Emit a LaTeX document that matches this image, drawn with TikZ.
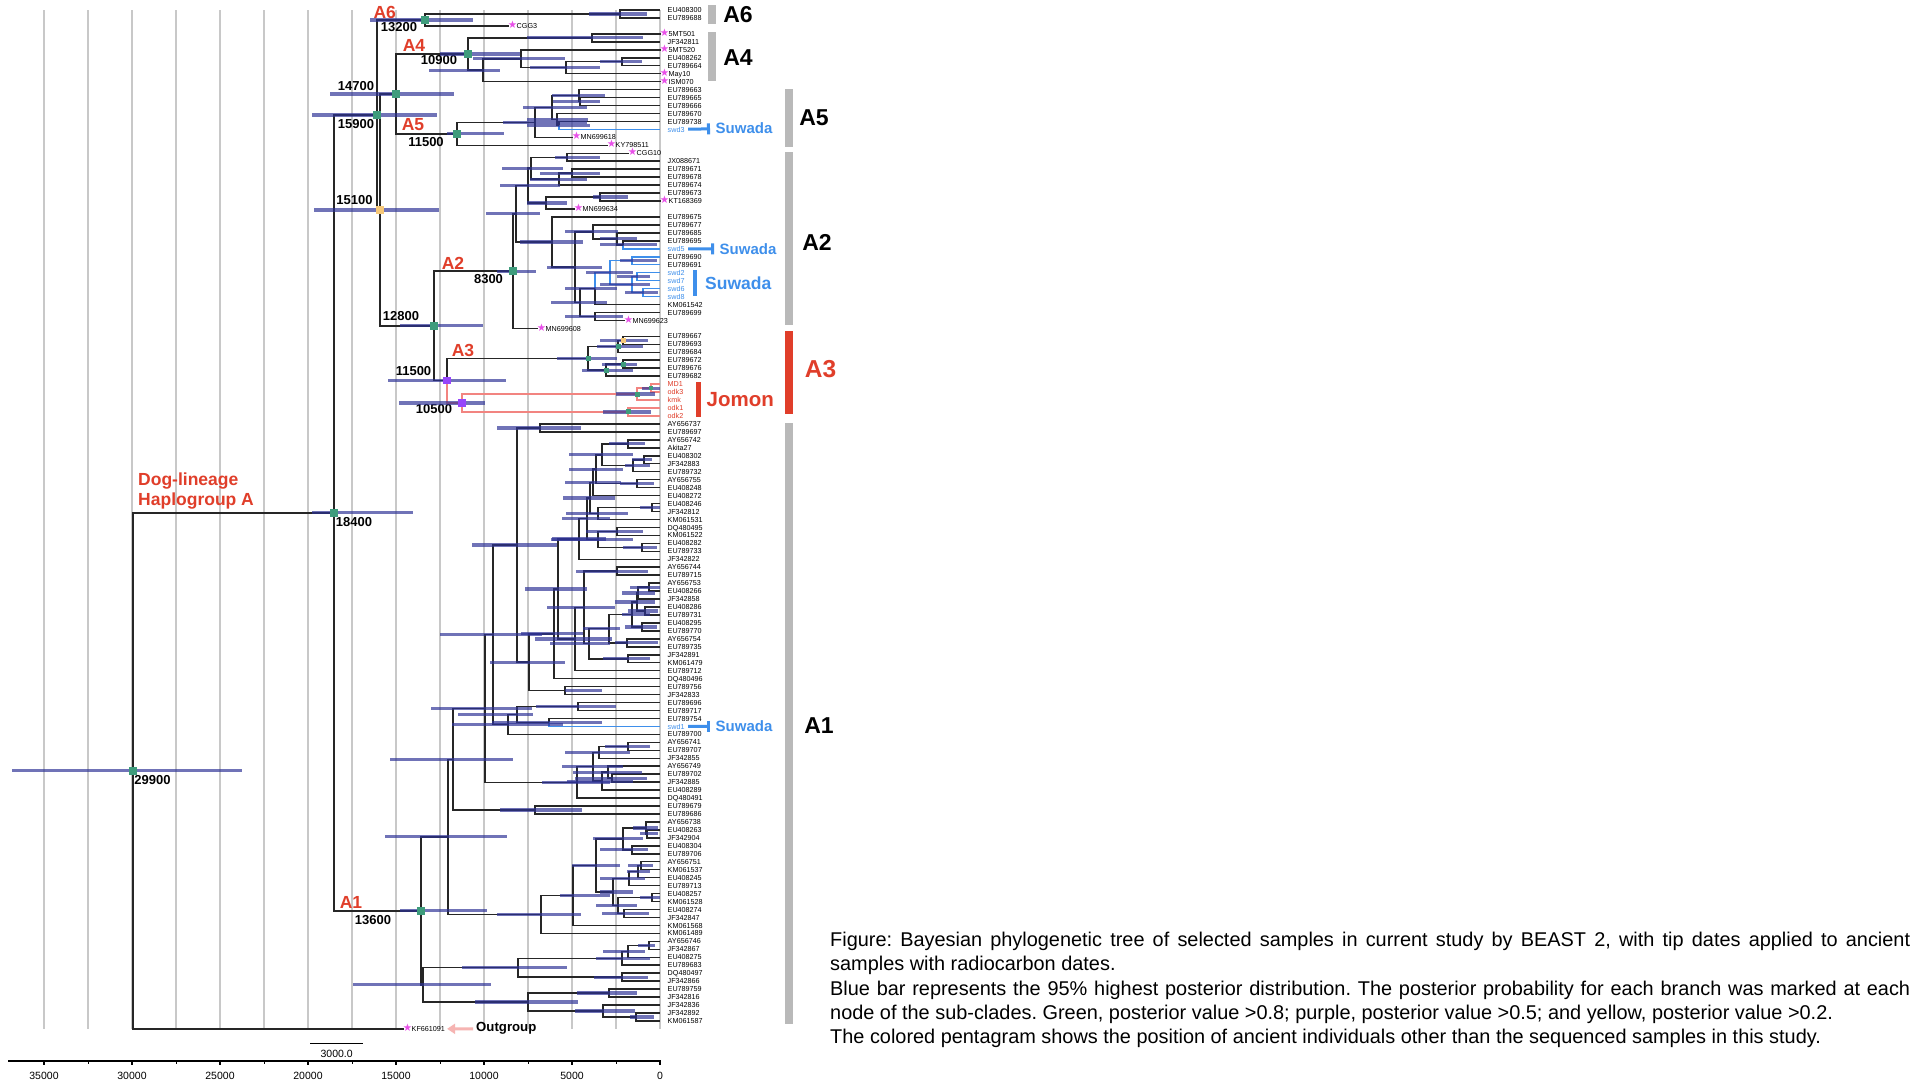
\documentclass[tikz,border=0pt]{standalone}
\usepackage{fontspec}
\setmainfont{Liberation Sans}
\newfontfamily\starfnt{DejaVu Sans}
\usepackage{xcolor}
\usetikzlibrary{arrows.meta,positioning,calc}
\frenchspacing

\definecolor{branchc}{RGB}{38,38,38}
\definecolor{gridc}{RGB}{200,200,200}
\definecolor{hpdc}{RGB}{45,50,150}
\definecolor{swdc}{RGB}{62,143,235}
\definecolor{jomc}{RGB}{242,132,128}
\definecolor{redc}{RGB}{224,62,42}
\definecolor{starc}{RGB}{232,80,232}
\definecolor{greenc}{RGB}{62,156,124}
\definecolor{purpc}{RGB}{150,70,250}
\definecolor{yelc}{RGB}{246,200,120}
\definecolor{barc}{RGB}{185,185,185}
\definecolor{ogc}{RGB}{246,180,178}

\pgfdeclarelayer{bars}
\pgfdeclarelayer{marks}
\pgfsetlayers{main,bars,marks}

% internal node: [style] name, x, child, child, 95% bar from, to
\newcommand{\clade}[7][branch]{%
  \path let \p1=(#4), \p2=(#5) in (#3pt,{(\y1+\y2)/2}) coordinate (#2);
  \draw[#1] (#2) |- (#4);
  \draw[#1] (#2) |- (#5);
  \begin{pgfonlayer}{bars}
    \draw[hpd] let \p1=(#2) in (#6pt,\y1) -- (#7pt,\y1);
  \end{pgfonlayer}}
% same, one style per child
\newcommand{\cladex}[8]{%
  \path let \p1=(#3), \p2=(#5) in (#2pt,{(\y1+\y2)/2}) coordinate (#1);
  \draw[#4] (#1) |- (#3);
  \draw[#6] (#1) |- (#5);
  \begin{pgfonlayer}{bars}
    \draw[hpd] let \p1=(#1) in (#7pt,\y1) -- (#8pt,\y1);
  \end{pgfonlayer}}

\begin{document}
\begin{tikzpicture}[
    x=1pt, y=-1pt,
    branch/.style={draw=branchc, line width=1.5pt},
    bbranch/.style={draw=swdc, line width=1.5pt},
    rbranch/.style={draw=jomc, line width=1.5pt},
    hpd/.style={draw=hpdc, line width=3.2pt, draw opacity=0.68},
    gridline/.style={draw=gridc, line width=1.2pt},
    axisline/.style={draw=black, line width=2pt},
    leaf/.style={anchor=west, inner xsep=7.5pt, inner ysep=0.5pt, text height=5.2pt, text depth=0pt, font=\fontsize{7.2}{8}\selectfont},
    bleaf/.style={leaf, text=swdc},
    rleaf/.style={leaf, text=redc},
    sleaf/.style={leaf, inner xsep=0pt, execute at begin node={\kern-0.8pt\textcolor{starc}{\starfnt\fontsize{10.5}{10.5}\selectfont ★}\kern-0.6pt}},
    age/.style={font=\bfseries\fontsize{13}{14}\selectfont, inner sep=0pt},
    clab/.style={font=\bfseries\fontsize{17.5}{19}\selectfont, text=redc, inner sep=0pt},
    side/.style={font=\bfseries\fontsize{23}{24}\selectfont, inner sep=0pt},
    sidebar/.style={fill=barc, draw=none},
    suw/.style={font=\bfseries\fontsize{15}{16}\selectfont, text=swdc, anchor=west, inner xsep=5.5pt, inner ysep=0pt},
    sconn/.style={draw=swdc, line width=3pt, shorten <=-4pt, -{Bar[width=11pt, line width=3pt]}},
    gsq/.style={fill=greenc, minimum size=7.5pt, inner sep=0pt},
    ysq/.style={fill=yelc, minimum size=7.5pt, inner sep=0pt},
    psq/.style={fill=purpc, minimum size=7.5pt, inner sep=0pt},
    axlab/.style={font=\fontsize{10.5}{11}\selectfont, inner sep=0pt}
]

\fill[white] (0,0) rectangle (1920,1080);
\useasboundingbox (0,0) rectangle (1920,1080);

% time grid
\foreach \k in {0,...,14}
  \draw[gridline] ({660-44*\k},10) -- ({660-44*\k},1029);

% tips
\foreach \lab/\tx/\st [count=\i] in {EU408300/660/leaf, EU789688/660/leaf, CGG3/508.5/sleaf, 5MT501/660.5/sleaf, JF342811/660/leaf, 5MT520/660.5/sleaf, EU408262/660/leaf, EU789664/660/leaf, May10/660.5/sleaf, ISM070/660.5/sleaf,
  EU789663/660/leaf, EU789665/660/leaf, EU789666/660/leaf, EU789670/660/leaf, EU789738/660/leaf, swd3/660/bleaf, MN699618/572.5/sleaf, KY798511/607.5/sleaf, CGG10/628.5/sleaf, JX088671/660/leaf,
  EU789671/660/leaf, EU789678/660/leaf, EU789674/660/leaf, EU789673/660/leaf, KT168369/660.5/sleaf, MN699634/574.5/sleaf, EU789675/660/leaf, EU789677/660/leaf, EU789685/660/leaf, EU789695/660/leaf,
  swd5/660/bleaf, EU789690/660/leaf, EU789691/660/leaf, swd2/660/bleaf, swd7/660/bleaf, swd6/660/bleaf, swd8/660/bleaf, KM061542/660/leaf, EU789699/660/leaf, MN699623/624.5/sleaf,
  MN699608/537.5/sleaf, EU789667/660/leaf, EU789693/660/leaf, EU789684/660/leaf, EU789672/660/leaf, EU789676/660/leaf, EU789682/660/leaf, MD1/660/rleaf, odk3/660/rleaf, kmk/660/rleaf,
  odk1/660/rleaf, odk2/660/rleaf, AY656737/660/leaf, EU789697/660/leaf, AY656742/660/leaf, Akita27/660/leaf, EU408302/660/leaf, JF342883/660/leaf, EU789732/660/leaf, AY656755/660/leaf,
  EU408248/660/leaf, EU408272/660/leaf, EU408246/660/leaf, JF342812/660/leaf, KM061531/660/leaf, DQ480495/660/leaf, KM061522/660/leaf, EU408282/660/leaf, EU789733/660/leaf, JF342822/660/leaf,
  AY656744/660/leaf, EU789715/660/leaf, AY656753/660/leaf, EU408266/660/leaf, JF342858/660/leaf, EU408286/660/leaf, EU789731/660/leaf, EU408295/660/leaf, EU789770/660/leaf, AY656754/660/leaf,
  EU789735/660/leaf, JF342891/660/leaf, KM061479/660/leaf, EU789712/660/leaf, DQ480496/660/leaf, EU789756/660/leaf, JF342833/660/leaf, EU789696/660/leaf, EU789717/660/leaf, EU789754/660/leaf,
  swd1/660/bleaf, EU789700/660/leaf, AY656741/660/leaf, EU789707/660/leaf, JF342855/660/leaf, AY656749/660/leaf, EU789702/660/leaf, JF342885/660/leaf, EU408289/660/leaf, DQ480491/660/leaf,
  EU789679/660/leaf, EU789686/660/leaf, AY656738/660/leaf, EU408263/660/leaf, JF342904/660/leaf, EU408304/660/leaf, EU789706/660/leaf, AY656751/660/leaf, KM061537/660/leaf, EU408245/660/leaf,
  EU789713/660/leaf, EU408257/660/leaf, KM061528/660/leaf, EU408274/660/leaf, JF342847/660/leaf, KM061568/660/leaf, KM061489/660/leaf, AY656746/660/leaf, JF342867/660/leaf, EU408275/660/leaf,
  EU789683/660/leaf, DQ480497/660/leaf, JF342866/660/leaf, EU789759/660/leaf, JF342816/660/leaf, JF342836/660/leaf, JF342892/660/leaf, KM061587/660/leaf, KF661091/403.5/sleaf}
  \node[\st] (t\i) at (\tx,{10+(\i-1)*7.96}) {\lab};

% A6
\clade{a6a}{620}{t1}{t2}{589}{647}
\clade{a6}{425}{a6a}{t3}{370}{473}
% A4
\clade{a4a}{592}{t4}{t5}{527}{643}
\clade{a4b}{622}{t7}{t8}{600}{642}
\clade{a4c}{566}{a4b}{t9}{530}{600}
\clade{a4d}{521}{t6}{a4c}{473}{565}
\clade{a4e}{483}{a4d}{t10}{429}{500}
\clade{a4}{468}{a4a}{a4e}{440}{520}
% A5
\clade{a5a}{580}{t12}{t13}{553}{600}
\clade{a5b}{579}{t11}{a5a}{552}{605}
\cladex{a5c}{559}{t15}{branch}{t16}{bbranch}{527}{590}
\clade{a5d}{557}{t14}{a5c}{527}{588}
\clade{a5e}{552}{a5b}{a5d}{523}{587}
\clade{a5f}{535}{a5e}{t17}{503}{587}
\clade{a5}{457}{a5f}{t18}{447}{504}
\clade{n14700}{396}{a4}{a5}{330}{454}
% A2
\clade{a2a}{567}{t19}{t20}{555}{600}
\clade{a2b}{572}{t21}{t22}{540}{600}
\clade{a2c}{559}{a2b}{t23}{530}{587}
\clade{a2d}{531}{a2a}{a2c}{502}{563}
\clade{a2e}{600}{t24}{t25}{593}{628}
\clade{a2f}{546}{a2e}{t26}{527}{567}
\clade{a2g}{528}{a2d}{a2f}{500}{560}
\cladex{a2h}{623}{t30}{branch}{t31}{bbranch}{600}{657}
\clade{a2i}{617}{t29}{a2h}{600}{637}
\clade{a2j}{593}{t28}{a2i}{565}{618}
\clade[bbranch]{a2k}{632}{t32}{t33}{620}{657}
\clade[bbranch]{a2l}{637}{t34}{t35}{617}{650}
\clade[bbranch]{a2m}{643}{t36}{t37}{625}{658}
\clade[bbranch]{a2n}{632}{a2l}{a2m}{600}{650}
\clade[bbranch]{a2o}{610}{a2k}{a2n}{586}{633}
\cladex{a2p}{595}{a2o}{bbranch}{t38}{branch}{565}{617}
\clade{a2q}{595}{t39}{t40}{565}{623}
\clade{a2r}{580}{a2p}{a2q}{551}{607}
\clade{a2s}{575}{a2j}{a2r}{547}{602}
\clade{a2t}{552}{t27}{a2s}{520}{583}
\clade{a2u}{516}{a2g}{a2t}{486}{540}
\clade{a2}{513}{a2u}{t41}{497}{536}
% A3 and Jomon
\clade{a3a}{623}{t42}{t43}{600}{648}
\clade{a3b}{618}{a3a}{t44}{597}{643}
\clade{a3c}{623}{t45}{t46}{602}{637}
\clade{a3d}{606}{a3c}{t47}{582}{633}
\clade{a3e}{588}{a3b}{a3d}{557}{617}
\clade[rbranch]{jm1}{651}{t48}{t49}{642}{660}
\clade[rbranch]{jm2}{637}{jm1}{t50}{616}{655}
\clade[rbranch]{jm3}{628}{t51}{t52}{603}{651}
\clade[rbranch]{jomon}{462}{jm2}{jm3}{399}{485}
\cladex{a3}{447}{a3e}{branch}{jomon}{rbranch}{388}{506}
\clade{n12800}{434}{a2}{a3}{400}{483}
\clade{n15100}{380}{n14700}{n12800}{314}{439}
\clade{n15900}{377}{a6}{n15100}{312}{437}
% A1, upper part
\clade{b01}{540}{t53}{t54}{497}{581}
\clade{b02}{628}{t55}{t56}{609}{645}
\clade{b03}{644}{t57}{t58}{632}{652}
\clade{b04}{633}{b03}{t59}{625}{650}
\clade{b05}{602}{b02}{b04}{569}{633}
\clade{b06}{637}{t60}{t61}{620}{654}
\clade{b07}{596}{b05}{b06}{569}{623}
\clade{b08}{593}{b07}{t62}{565}{621}
\clade{b09}{652}{t63}{t64}{640}{660}
\clade{b10}{598}{b09}{t65}{566}{628}
\clade{b11}{590}{b08}{b10}{563}{615}
\clade{b12}{617}{t66}{t67}{586}{643}
\clade{b13}{642}{t68}{t69}{623}{657}
\clade{b14}{598}{b12}{b13}{551}{633}
\clade{b15}{587}{b11}{b14}{562}{610}
\clade{b16}{579}{b15}{t70}{552}{606}
\clade{b17}{617}{t71}{t72}{576}{648}
\clade{b18}{649}{t73}{t74}{630}{660}
\clade{b19}{638}{b18}{t75}{622}{655}
\clade{b20}{645}{t76}{t77}{628}{658}
\clade{b21}{637}{b19}{b20}{615}{655}
\clade{b22}{642}{t78}{t79}{625}{657}
\clade{b23}{632}{b21}{b22}{622}{650}
\clade{b24}{627}{t80}{t81}{615}{658}
\clade{b25}{609}{b23}{b24}{583}{620}
\clade{b26}{628}{t82}{t83}{603}{650}
\clade{b27}{589}{b25}{b26}{550}{610}
\clade{b28}{584}{b17}{b27}{547}{615}
\clade{b29}{575}{b28}{t84}{535}{612}
\clade{b30}{558}{b16}{b29}{525}{587}
\clade{b31}{554}{b30}{t85}{521}{583}
\clade{b32}{565}{t86}{t87}{565}{602}
\clade{b33}{529}{b31}{b32}{490}{565}
\clade{b34}{517}{b01}{b33}{472}{557}
\clade{b35}{578}{t88}{t89}{536}{616}
\cladex{b36}{549}{t90}{branch}{t91}{bbranch}{492}{602}
\clade{b37}{517}{b35}{b36}{458}{533}
\clade{b38}{508}{b37}{t92}{452}{563}
\clade{b39}{493}{b34}{b38}{440}{542}
\clade{b40}{628}{t93}{t94}{605}{650}
\clade{b41}{599}{b40}{t95}{565}{630}
\clade{b42}{612}{t97}{t98}{575}{647}
\clade{b43}{608}{t96}{b42}{573}{642}
\clade{b44}{602}{b43}{t99}{567}{633}
\clade{b45}{593}{b41}{b44}{562}{623}
\clade{b46}{577}{b45}{t100}{542}{610}
\clade{b47}{485}{b39}{b46}{431}{532}
\clade{b48}{535}{t101}{t102}{500}{582}
\clade{b49}{453}{b47}{b48}{390}{513}
% A1, middle part
\clade{c01}{647}{t104}{t105}{640}{658}
\clade{c02}{646}{t103}{c01}{633}{658}
\clade{c03}{632}{t106}{t107}{600}{648}
\clade{c04}{623}{c02}{c03}{593}{643}
\clade{c05}{641}{t108}{t109}{628}{653}
\clade{c06}{638}{c05}{t110}{627}{650}
\clade{c07}{629}{c06}{t111}{600}{645}
\clade{c08}{652}{t112}{t113}{640}{660}
\clade{c09}{624}{t114}{t115}{602}{649}
\clade{c10}{618}{c08}{c09}{596}{637}
\clade{c11}{613}{c07}{c10}{600}{633}
\clade{c12}{596}{c04}{c11}{572}{620}
\clade{c13}{573}{c12}{t116}{560}{610}
\clade{c14}{541}{c13}{t117}{497}{581}
\clade{a1a}{448}{b49}{c14}{385}{507}
% A1, lower part
\clade{d01}{649}{t118}{t119}{638}{655}
\clade{d02}{628}{d01}{t120}{603}{645}
\clade{d03}{622}{d02}{t121}{596}{650}
\clade{d04}{622}{t122}{t123}{594}{648}
\clade{d05}{518}{d03}{d04}{462}{567}
\clade{d06}{609}{t124}{t125}{577}{637}
\clade{d07}{636}{t127}{t128}{630}{654}
\clade{d08}{603}{t126}{d07}{575}{635}
\clade{d09}{528}{d06}{d08}{475}{578}
\clade{a1b}{423}{d05}{d09}{353}{491}
\clade{a1}{421}{a1a}{a1b}{400}{487}
% deep nodes
\clade{n18400}{334}{n15900}{a1}{312}{413}
\clade{root}{133}{n18400}{t129}{12}{242}

% posterior marks
\begin{pgfonlayer}{marks}
\node[gsq] (q-root) at (root) {};
\node[gsq] (q-18400) at (n18400) {};
\node[gsq] (q-15900) at (n15900) {};
\node[ysq] (q-15100) at (n15100) {};
\node[gsq] (q-14700) at (n14700) {};
\node[gsq] (q-a6) at (a6) {};
\node[gsq] (q-a4) at (a4) {};
\node[gsq] (q-a5) at (a5) {};
\node[gsq] (q-12800) at (n12800) {};
\node[gsq] (q-a2) at (a2) {};
\node[psq] (q-a3) at (a3) {};
\node[psq] (q-jomon) at (jomon) {};
\node[gsq] (q-a1) at (a1) {};
\node[gsq, minimum size=5pt] (q-a3e) at (a3e) {};
\node[gsq, minimum size=5pt] (q-a3b) at (a3b) {};
\node[ysq, minimum size=5pt] (q-a3a) at (a3a) {};
\node[gsq, minimum size=5pt] (q-a3c) at (a3c) {};
\node[gsq, minimum size=5pt] (q-a3d) at (a3d) {};
\node[gsq, minimum size=4pt] (q-jm1) at (jm1) {};
\node[gsq, minimum size=5pt] (q-jm2) at (jm2) {};
\node[gsq, minimum size=5pt] (q-jm3) at (jm3) {};
\end{pgfonlayer}

% node ages
\node[age] (l29900) at (152.5,780) {29900};
\node[age] (l18400) at (354,521.6) {18400};
\node[age] (l15900) at (356,124) {15900};
\node[age] (l14700) at (356,86) {14700};
\node[age] (l15100) at (354.5,200.5) {15100};
\node[age] (l13200) at (399,26.7) {13200};
\node[age] (l10900) at (439,60.3) {10900};
\node[age] (l11500a) at (426,141.7) {11500};
\node[age] (l8300) at (488.5,278.7) {8300};
\node[age] (l12800) at (401,316.5) {12800};
\node[age] (l11500b) at (413.5,371.3) {11500};
\node[age] (l10500) at (434,409) {10500};
\node[age] (l13600) at (373,920.3) {13600};

% clade names on the tree
\node[clab] (ta6) at (384.7,12.5) {A6};
\node[clab] (ta4) at (414,45.7) {A4};
\node[clab] (ta5) at (413,125) {A5};
\node[clab] (ta2) at (453,263) {A2};
\node[clab] (ta3) at (463,350) {A3};
\node[clab] (ta1) at (351,902) {A1};
\node[clab, anchor=north west, align=left, font=\bfseries\fontsize{17.5}{20}\selectfont] (dogA) at (138,473) {Dog-lineage\\Haplogroup A};

% clade bars on the right
\fill[sidebar] (708,5) rectangle (716,23.5);
\node[side] (sa6) at (738,15) {A6};
\fill[sidebar] (708,32) rectangle (716,81);
\node[side] (sa4) at (738,58) {A4};
\fill[sidebar] (785,89) rectangle (793,147);
\node[side] (sa5) at (814,117.5) {A5};
\fill[sidebar] (785,152) rectangle (793,324.5);
\node[side] (sa2) at (817,242.5) {A2};
\fill[redc] (785,330.6) rectangle (793,414);
\node[side, text=redc, font=\bfseries\fontsize{24.5}{25}\selectfont] (sa3) at (820.5,368.6) {A3};
\fill[sidebar] (785,422.5) rectangle (793,1024);
\node[side] (sa1) at (819,726) {A1};

% Suwada and Jomon samples
\node[suw] (suw3) at (710,128.3) {Suwada};
\draw[sconn] (t16) -- (suw3);
\node[suw] (suw5) at (714,248.7) {Suwada};
\draw[sconn] (t31) -- (suw5);
\node[suw] (suw1) at (710,726.4) {Suwada};
\draw[sconn] (t91) -- (suw1);
\fill[swdc] (693,270) rectangle (697,296);
\node[suw, inner xsep=0pt, font=\bfseries\fontsize{17.5}{18}\selectfont] (suwbig) at (705,283) {Suwada};
\fill[redc] (696,381.7) rectangle (701,417.3);
\node[anchor=west, inner sep=0pt, text=redc, font=\bfseries\fontsize{20.5}{21}\selectfont] (jomonlab) at (706.5,400) {Jomon};

% outgroup
\node[anchor=west, inner xsep=3pt, font=\bfseries\fontsize{13.2}{14}\selectfont] (outg) at (473,1028.7) {Outgroup};
\draw[draw=ogc, line width=3pt, shorten >=2pt, -{Triangle[length=8pt, width=10pt]}] (outg) -- (t129);

% scale bar and time axis
\draw[line width=1.5pt] (310,1043.7) -- (363,1043.7);
\node[axlab] (scale) at (336.7,1053.7) {3000.0};
\draw[axisline] (8,1061) -- (661,1061);
\foreach \k/\yr in {0/0, 1/5000, 2/10000, 3/15000, 4/20000, 5/25000, 6/30000, 7/35000} {
  \draw[line width=1.5pt] ({660-88*\k},1061) -- ++(0,4);
  \node[axlab] (ax\k) at ({660-88*\k},1076) {\yr};
}
\foreach \k in {0,...,6}
  \draw[line width=1pt] ({616-88*\k},1061) -- ++(0,2.5);

% caption
\node[anchor=north west, inner sep=0pt, align=left, font=\fontsize{19.9}{24.3}\selectfont] (caption) at (830,932) {%
\makebox[1080pt][s]{Figure: Bayesian phylogenetic tree of selected samples in current study by BEAST 2, with tip dates applied to ancient}\\
samples with radiocarbon dates.\\
\makebox[1080pt][s]{Blue bar represents the 95\% highest posterior distribution. The posterior probability for each branch was marked at each}\\
node of the sub-clades. Green, posterior value >0.8; purple, posterior value >0.5; and yellow, posterior value >0.2.\\
The colored pentagram shows the position of ancient individuals other than the sequenced samples in this study.};

\end{tikzpicture}
\end{document}
